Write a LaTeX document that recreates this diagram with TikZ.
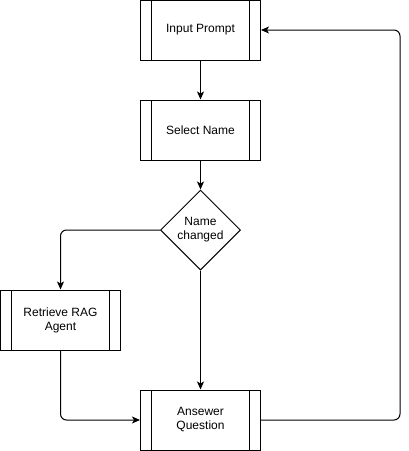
\documentclass[tikz,border=0pt]{standalone}
\usepackage{fontspec}
\setmainfont{Liberation Sans}
\usetikzlibrary{shapes.geometric,arrows.meta}
\tikzset{
  subproc/.style={draw, line width=1pt, minimum width=120pt, minimum height=60pt,
    align=center, inner sep=0pt,
    path picture={
      \draw[line width=1pt] ([xshift=11pt]path picture bounding box.north west) -- ([xshift=11pt]path picture bounding box.south west);
      \draw[line width=1pt] ([xshift=-11pt]path picture bounding box.north east) -- ([xshift=-11pt]path picture bounding box.south east);
    }},
  decision/.style={draw, diamond, aspect=1, line width=1pt, minimum size=80pt,
    inner sep=0pt, align=center}
}
\begin{document}
\begin{tikzpicture}[x=1pt,y=-1pt,>={Stealth[length=8pt,width=7pt,inset=2pt]},
  font=\fontsize{12}{14}\selectfont]
\useasboundingbox (0,0) rectangle (409,451);
\node[subproc] (prompt) at (200.5,30) {Input Prompt};
\node[subproc] (select) at (200.5,130) {Select Name};
\node[decision] (changed) at (200.5,230) {Name\\changed};
\node[subproc] (rag) at (60.5,320) {Retrieve RAG\\Agent};
\node[subproc] (answer) at (200.5,420) {Ansewer\\Question};
\draw[->,line width=1pt] (prompt) -- (select);
\draw[->,line width=1pt] (select) -- (changed);
\draw[->,line width=1pt,rounded corners=6pt] (changed) -| (rag);
\draw[->,line width=1pt] (changed) -- (answer);
\draw[->,line width=1pt,rounded corners=6pt] (rag) |- (answer);
\draw[->,line width=1pt,rounded corners=6pt] (answer) -- (400,420) |- (prompt);
\end{tikzpicture}
\end{document}
